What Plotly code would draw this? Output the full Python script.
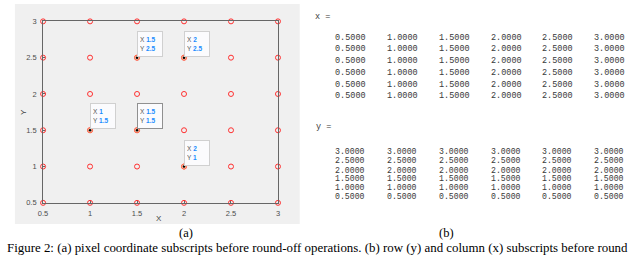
import plotly.graph_objects as go

W, H = 640, 259

# ---- data ----
grid_x = [0.5, 1.0, 1.5, 2.0, 2.5, 3.0]
grid_y = [0.5, 1.0, 1.5, 2.0, 2.5, 3.0]
tick_vals = [0.5, 1, 1.5, 2, 2.5, 3]
tick_text = ["0.5", "1", "1.5", "2", "2.5", "3"]

tip_x = [1.5, 2.0, 1.0, 1.5, 2.0]
tip_y = [2.5, 2.5, 1.5, 1.5, 1.0]
tip_xlabel = ["1.5", "2", "1", "1.5", "2"]
tip_ylabel = ["2.5", "2.5", "1.5", "1.5", "1"]
tip_selected = [False, False, False, True, False]

mat_x_rows = [
    ["0.5000", "1.0000", "1.5000", "2.0000", "2.5000", "3.0000"],
    ["0.5000", "1.0000", "1.5000", "2.0000", "2.5000", "3.0000"],
    ["0.5000", "1.0000", "1.5000", "2.0000", "2.5000", "3.0000"],
    ["0.5000", "1.0000", "1.5000", "2.0000", "2.5000", "3.0000"],
    ["0.5000", "1.0000", "1.5000", "2.0000", "2.5000", "3.0000"],
    ["0.5000", "1.0000", "1.5000", "2.0000", "2.5000", "3.0000"],
]
mat_y_rows = [
    ["3.0000"] * 6,
    ["2.5000"] * 6,
    ["2.0000"] * 6,
    ["1.5000"] * 6,
    ["1.0000"] * 6,
    ["0.5000"] * 6,
]
caption = ("Figure 2: (a) pixel coordinate subscripts before round-off operations. "
           "(b) row (y) and column (x) subscripts before round")


def px(x):
    return x / W


def py(y):
    return 1 - y / H


gx = [x for y in grid_y for x in grid_x]
gy = [y for y in grid_y for x in grid_x]

fig = go.Figure()
fig.add_trace(go.Scatter(
    x=gx, y=gy, mode="markers", cliponaxis=False, hoverinfo="skip",
    marker=dict(symbol="circle-open", size=5, color="#ff3030", line=dict(width=1)),
))
fig.add_trace(go.Scatter(
    x=tip_x, y=tip_y, mode="markers", cliponaxis=False, hoverinfo="skip",
    marker=dict(symbol="circle", size=5, color="#f9c8b0",
                line=dict(width=1, color="#ff7050")),
))
fig.add_trace(go.Scatter(
    x=tip_x, y=tip_y, mode="markers", cliponaxis=False, hoverinfo="skip",
    marker=dict(symbol="circle", size=2.5, color="black"),
))

annotations = []
blue = "#1a8cff"
for xv, yv, xl, yl, sel in zip(tip_x, tip_y, tip_xlabel, tip_ylabel, tip_selected):
    annotations.append(dict(
        x=xv, y=yv, xref="x", yref="y", showarrow=False,
        xanchor="left", yanchor="bottom", xshift=0, yshift=1,
        text=(f"X <b><span style='color:{blue}'>{xl}</span></b><br>"
              f"Y <b><span style='color:{blue}'>{yl}</span></b>"),
        align="left", width=20, height=20, borderpad=2,
        font=dict(family="Liberation Sans", size=6.5, color="#555555"),
        bgcolor="#fbfbfd", bordercolor="#909090" if sel else "#d0d0d0", borderwidth=1,
    ))

mono = dict(family="Liberation Mono", size=8.5, color="#3a3a3a")
mono_y = dict(family="Liberation Mono", size=8.2, color="#3a3a3a")
col_left = [332, 384, 437, 489, 541, 593]
x_row_y = [35, 47, 59.5, 71.5, 83.5, 95]
y_row_y = [153.3, 162.6, 172, 181, 190.2, 199.4]

annotations.append(dict(x=px(311), y=py(13), xref="paper", yref="paper", showarrow=False,
                        xanchor="left", yanchor="middle", text="x =", font=mono))
annotations.append(dict(x=px(312), y=py(127), xref="paper", yref="paper", showarrow=False,
                        xanchor="left", yanchor="middle", text="y =", font=mono))
for r, row in enumerate(mat_x_rows):
    for c, val in enumerate(row):
        annotations.append(dict(x=px(col_left[c]), y=py(x_row_y[r]), xref="paper", yref="paper",
                                showarrow=False, xanchor="left", yanchor="middle",
                                text=val, font=mono))
for r, row in enumerate(mat_y_rows):
    for c, val in enumerate(row):
        annotations.append(dict(x=px(col_left[c]), y=py(y_row_y[r]), xref="paper", yref="paper",
                                showarrow=False, xanchor="left", yanchor="middle",
                                text=val, font=mono_y))

serif = dict(family="Liberation Serif", size=12.5, color="black")
cap_font = dict(family="Liberation Serif", size=12.9, color="black")
annotations.append(dict(x=px(183), y=py(237.5), xref="paper", yref="paper", showarrow=False,
                        xanchor="center", yanchor="middle", text="(a)", font=serif))
annotations.append(dict(x=px(446), y=py(237.5), xref="paper", yref="paper", showarrow=False,
                        xanchor="center", yanchor="middle", text="(b)", font=serif))
annotations.append(dict(x=px(0), y=py(252.5), xref="paper", yref="paper", showarrow=False,
                        xanchor="left", yanchor="middle", text=caption, font=cap_font))
annotations.append(dict(x=px(156), y=py(222), xref="paper", yref="paper", showarrow=False,
                        xanchor="center", yanchor="middle", text="X",
                        font=dict(family="Liberation Sans", size=8, color="#444444")))
annotations.append(dict(x=px(18), y=py(112), xref="paper", yref="paper", showarrow=False,
                        xanchor="center", yanchor="middle", text="Y", textangle=-90,
                        font=dict(family="Liberation Sans", size=8, color="#444444")))

tickfont = dict(family="Liberation Sans", size=7.5, color="#4d4d4d")
fig.update_layout(
    width=W, height=H, margin=dict(l=0, r=0, t=0, b=0),
    paper_bgcolor="white", plot_bgcolor="white", showlegend=False,
    xaxis=dict(domain=[px(38.5), px(276)], range=[0.5, 3], tickvals=tick_vals, ticktext=tick_text,
               showgrid=False, zeroline=False, showline=True, mirror=True, linecolor="#666666",
               linewidth=1, ticks="inside", ticklen=2, tickcolor="#666666", tickfont=tickfont,
               ticklabelstandoff=3, fixedrange=True),
    yaxis=dict(domain=[py(206), py(18)], range=[0.5, 3], tickvals=tick_vals, ticktext=tick_text,
               showgrid=False, zeroline=False, showline=True, mirror=True, linecolor="#666666",
               linewidth=1, ticks="inside", ticklen=2, tickcolor="#666666", tickfont=tickfont,
               ticklabelstandoff=4, fixedrange=True),
    shapes=[dict(type="rect", xref="paper", yref="paper", x0=px(10), x1=px(298),
                 y0=py(228), y1=py(0), fillcolor="#f0f0f0", line=dict(width=0), layer="below")],
    annotations=annotations,
)

post = (
    "var s=document.createElement('style');"
    "s.textContent='html,body{margin:0;padding:0;width:640px;height:259px;overflow:hidden;}"
    "body>div{margin:0;padding:0;height:259px;overflow:hidden;}';"
    "document.head.appendChild(s);"
)
fig.write_html("out.html", config={"displayModeBar": False}, post_script=post)
